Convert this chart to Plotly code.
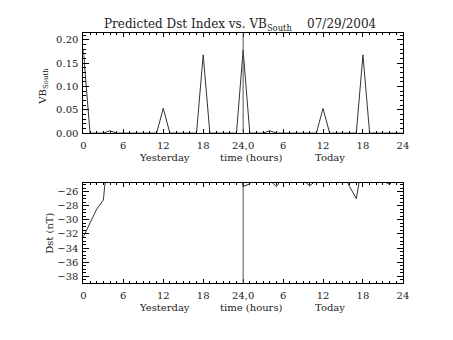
import plotly.graph_objects as go

hours = list(range(0, 49))
vb_south = [0.178, 0, 0, 0, 0.005, 0, 0, 0, 0, 0, 0, 0,
            0.053, 0, 0, 0, 0, 0, 0.168, 0, 0, 0, 0, 0,
            0.178, 0, 0, 0, 0.005, 0, 0, 0, 0, 0, 0, 0,
            0.053, 0, 0, 0, 0, 0, 0.168, 0, 0, 0, 0, 0, 0]
dst = [-32.4, -30.4, -28.5, -27.2, -18.0, -17.0, -17.5, -18.0, -18.5, -19.0, -19.5, -20.0,
       -20.0, -20.5, -21.0, -21.0, -21.5, -22.0, -22.0, -22.5, -22.0, -21.5, -21.0, -20.0,
       -25.3, -24.9, -22.0, -23.0, -24.4, -25.3, -23.9, -23.0, -23.5, -24.3, -25.2, -24.4,
       -23.5, -23.0, -23.0, -23.3, -25.3, -27.0, -21.5, -22.5, -23.5, -24.5, -25.0, -24.0, -23.5]

xtick_vals = [0, 6, 12, 18, 24, 30, 36, 42, 48]
xtick_text = ["0", "6", "12", "18", "24,0", "6", "12", "18", "24"]
vb_ticks = [0.0, 0.05, 0.10, 0.15, 0.20]
dst_ticks = [-38, -36, -34, -32, -30, -28, -26]
day_labels = ["Yesterday", "time (hours)", "Today"]
day_label_pos = [12.2, 25.3, 37.1]

FONT = "DejaVu Serif"
W, H = 453, 340
TXT = "#222"

fig = go.Figure()
fig.add_trace(go.Scatter(x=hours, y=vb_south, mode="lines", line=dict(color="#333", width=1),
                         xaxis="x", yaxis="y", showlegend=False, cliponaxis=True))
fig.add_trace(go.Scatter(x=hours, y=dst, mode="lines", line=dict(color="#333", width=1),
                         xaxis="x2", yaxis="y2", showlegend=False, cliponaxis=True))

xd = [82 / W, 408 / W]
xcommon = dict(range=[0, 48], tickvals=xtick_vals, ticktext=xtick_text, ticks="inside",
               ticklen=4, tickcolor="black", showline=True, linecolor="black", linewidth=1,
               mirror="allticks", showgrid=False, zeroline=False, domain=xd,
               ticklabelstandoff=3,
               tickfont=dict(family=FONT, size=10, color=TXT),
               minor=dict(dtick=1, tick0=0, ticks="inside", ticklen=2, tickcolor="black", showgrid=False))
ycommon = dict(ticks="inside", ticklen=6, tickcolor="black", showline=True, linecolor="black",
               linewidth=1, mirror="allticks", showgrid=False, zeroline=False,
               ticklabelstandoff=2,
               tickfont=dict(family=FONT, size=10, color=TXT))

fig.update_layout(
    width=W, height=H, margin=dict(l=0, r=0, t=0, b=0),
    paper_bgcolor="white", plot_bgcolor="white",
    xaxis=dict(**xcommon, anchor="y"),
    xaxis2=dict(**xcommon, anchor="y2"),
    yaxis=dict(**ycommon, domain=[1 - 135.5 / H, 1 - 34 / H], range=[0, 0.214],
               tickvals=vb_ticks, tickformat=".2f", anchor="x",
               minor=dict(dtick=0.01, tick0=0, ticks="inside", ticklen=3, tickcolor="black", showgrid=False)),
    yaxis2=dict(**ycommon, domain=[1 - 287.7 / H, 1 - 186 / H], range=[-38.89, -24.75],
                tickvals=dst_ticks, anchor="x2",
                minor=dict(dtick=0.5, tick0=0, ticks="inside", ticklen=3, tickcolor="black", showgrid=False)),
    showlegend=False,
)

for xr, yr in [("x", "y domain"), ("x2", "y2 domain")]:
    fig.add_shape(type="line", xref=xr, yref=yr, x0=24, x1=24, y0=0, y1=1,
                  line=dict(color="#555", width=1))

ann = []
ann.append(dict(text="Predicted Dst Index vs. VB<sub>South</sub>    07/29/2004", xref="paper", yref="paper",
                x=242 / W, y=1 - 25 / H, showarrow=False, xanchor="center", yanchor="middle",
                font=dict(family=FONT, size=12, color=TXT)))
for yy in [160, 313]:
    for t, p in zip(day_labels, day_label_pos):
        ann.append(dict(text=t, xref="x", yref="paper", x=p, y=1 - yy / H, showarrow=False,
                        xanchor="center", yanchor="middle", font=dict(family=FONT, size=10, color=TXT)))
ann.append(dict(text="VB<sub>South</sub>", xref="paper", yref="paper", x=41 / W, y=1 - 88 / H,
                textangle=-90, showarrow=False, xanchor="center", yanchor="middle",
                font=dict(family=FONT, size=10, color=TXT)))
ann.append(dict(text="Dst (nT)", xref="paper", yref="paper", x=48 / W, y=1 - 238 / H,
                textangle=-90, showarrow=False, xanchor="center", yanchor="middle",
                font=dict(family=FONT, size=10, color=TXT)))
fig.update_layout(annotations=ann)

fig.write_html("out.html")
